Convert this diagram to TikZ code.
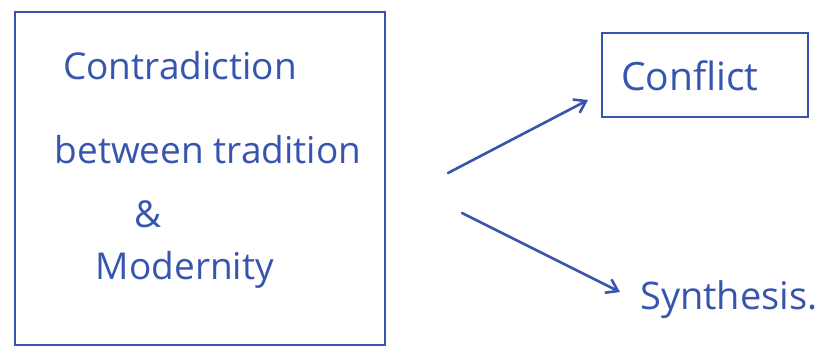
\documentclass[tikz,border=0pt]{standalone}
\usepackage{fontspec}
\setmainfont{Open Sans}
\usetikzlibrary{arrows.meta}
\definecolor{ink}{RGB}{55,85,175}
\begin{document}
\begin{tikzpicture}[x=1pt,y=-1pt,
  boxline/.style={draw=ink,line width=2.6pt},
  inktext/.style={text=ink,font=\fontsize{37}{42}\selectfont,inner sep=0pt},
  arr/.style={draw=ink,line width=2.6pt,line cap=round,-{Straight Barb[length=11pt,width=15pt,line width=2.6pt]}}]
\useasboundingbox (0,0) rectangle (835,360);
\fill[white] (0,0) rectangle (835,360);
\draw[boxline] (15,12) rectangle (385,345);
\node[inktext] (t1) at (180,66) {Contradiction};
\node[inktext] (t2) at (208,150) {between tradition};
\node[inktext] (t3) at (148,214) {\&};
\node[inktext] (t4) at (185,270) {Modernity};
\node[boxline,minimum width=206pt,minimum height=84pt,inner sep=0pt] (conf) at (705,75) {};
\node[inktext,font=\fontsize{39}{44}\selectfont] (conft) at (690,76) {Conflict};
\node[inktext,anchor=west,font=\fontsize{38}{42}\selectfont] (syn) at (640,300) {Synthesis.};
\coordinate (a1) at (448,173);
\coordinate (a2) at (462,213);
\coordinate (e1) at (588,100);
\coordinate (e2) at (620,292);
\draw[arr] (a1) -- (e1);
\draw[arr] (a2) -- (e2);
\end{tikzpicture}
\end{document}
